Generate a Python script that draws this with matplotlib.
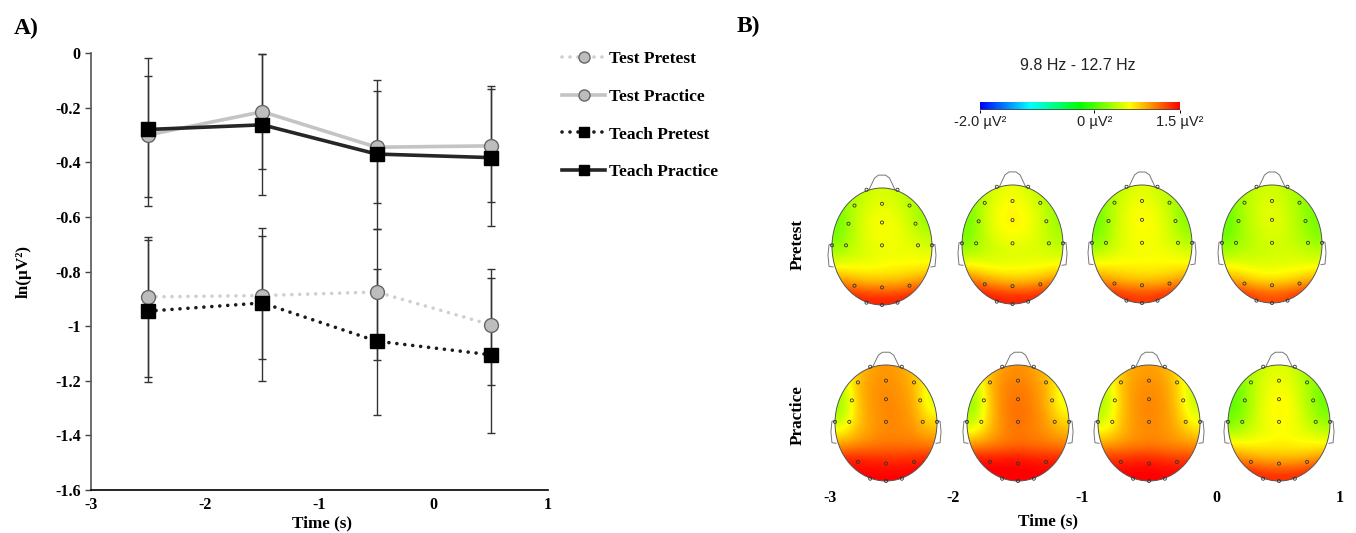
# -*- coding: utf-8 -*-
import numpy as np
import matplotlib
matplotlib.use('Agg')
import matplotlib.pyplot as plt
from matplotlib.colors import LinearSegmentedColormap
from matplotlib.patches import Ellipse
from matplotlib.cm import ScalarMappable
from matplotlib.colors import Normalize

FIG_W = 1356
FIG_H = 533
SERIF = 'Liberation Serif'
SANS = 'Liberation Sans'

# panel A
time_points = [-2.5, -1.5, -0.5, 0.5]
test_pre = [-0.893, -0.888, -0.875, -0.995]
test_pre_top = [-0.675, -0.67, -0.645, -0.79]
test_pre_bottom = [-1.185, -1.12, -1.125, -1.215]
test_prac = [-0.30, -0.215, -0.345, -0.34]
test_prac_top = [-0.083, -0.005, -0.14, -0.13]
test_prac_bottom = [-0.527, -0.425, -0.55, -0.545]
teach_pre = [-0.945, -0.915, -1.055, -1.105]
teach_pre_top = [-0.685, -0.64, -0.79, -0.825]
teach_pre_bottom = [-1.205, -1.20, -1.325, -1.39]
teach_prac = [-0.28, -0.263, -0.37, -0.383]
teach_prac_top = [-0.018, -0.003, -0.10, -0.122]
teach_prac_bottom = [-0.56, -0.52, -0.645, -0.635]
y_ticks = [0, -0.2, -0.4, -0.6, -0.8, -1, -1.2, -1.4, -1.6]
y_tick_labels = ['0', '-0.2', '-0.4', '-0.6', '-0.8', '-1', '-1.2', '-1.4', '-1.6']
x_ticks = [-3, -2, -1, 0, 1]

pre_1 = [[.25, .35, .45, .50, .45, .36, .28],
         [.15, .38, .52, .58, .52, .40, .25],
         [.12, .38, .56, .62, .58, .46, .28],
         [.18, .40, .54, .60, .58, .52, .42],
         [.34, .44, .50, .55, .56, .56, .54],
         [.64, .62, .60, .62, .64, .66, .68],
         [1.05, .95, .88, .88, .88, .95, 1.05],
         [1.55, 1.45, 1.40, 1.40, 1.40, 1.45, 1.55]]
pre_2 = [[.28, .40, .52, .58, .50, .40, .28],
         [.16, .42, .60, .66, .60, .44, .26],
         [.12, .42, .62, .68, .62, .48, .28],
         [.16, .40, .56, .60, .58, .48, .34],
         [.30, .40, .46, .50, .50, .48, .44],
         [.68, .60, .56, .56, .58, .60, .64],
         [1.15, 1.00, .90, .85, .85, .92, 1.05],
         [1.60, 1.50, 1.42, 1.40, 1.40, 1.45, 1.55]]
pre_3 = [[.24, .36, .48, .54, .46, .36, .24],
         [.14, .40, .56, .62, .56, .40, .18],
         [.10, .40, .58, .64, .60, .44, .20],
         [.16, .42, .56, .62, .58, .48, .30],
         [.34, .48, .55, .58, .58, .56, .48],
         [.68, .66, .64, .64, .64, .65, .66],
         [1.00, .92, .85, .82, .82, .88, 1.00],
         [1.55, 1.42, 1.35, 1.32, 1.35, 1.42, 1.55]]
pre_4 = [[.20, .34, .44, .48, .40, .28, .15],
         [.12, .35, .48, .55, .46, .30, .12],
         [.08, .33, .48, .55, .48, .32, .14],
         [.12, .32, .44, .50, .46, .36, .20],
         [.28, .38, .42, .46, .46, .44, .38],
         [.62, .56, .52, .52, .54, .56, .58],
         [.95, .85, .75, .72, .75, .82, .95],
         [1.50, 1.40, 1.28, 1.25, 1.28, 1.40, 1.50]]
prac_1 = [[.50, .82, .95, .98, .95, .82, .55],
          [.35, .85, .98, 1.02, .98, .88, .50],
          [.25, .82, .98, 1.04, 1.00, .90, .48],
          [.32, .80, .96, 1.04, 1.02, .94, .66],
          [.60, .84, .96, 1.02, 1.02, .98, .85],
          [.95, 1.00, 1.05, 1.08, 1.08, 1.08, 1.05],
          [1.40, 1.40, 1.38, 1.35, 1.35, 1.38, 1.40],
          [1.55, 1.50, 1.50, 1.50, 1.50, 1.50, 1.55]]
prac_2 = [[.50, .84, .98, 1.02, .96, .84, .58],
          [.32, .86, 1.04, 1.08, 1.02, .88, .56],
          [.22, .80, 1.05, 1.12, 1.04, .90, .52],
          [.30, .80, 1.05, 1.14, 1.06, .94, .68],
          [.56, .84, 1.02, 1.10, 1.05, .98, .85],
          [.98, 1.02, 1.08, 1.12, 1.10, 1.08, 1.05],
          [1.45, 1.45, 1.45, 1.45, 1.42, 1.40, 1.40],
          [1.55, 1.52, 1.52, 1.52, 1.52, 1.50, 1.50]]
prac_3 = [[.50, .80, .94, .96, .92, .74, .44],
          [.38, .82, .98, 1.02, .98, .78, .40],
          [.30, .80, 1.00, 1.04, 1.00, .80, .40],
          [.40, .80, 1.00, 1.04, 1.00, .84, .52],
          [.60, .82, .98, 1.02, 1.00, .90, .72],
          [.95, .98, 1.02, 1.05, 1.02, 1.00, .98],
          [1.35, 1.35, 1.38, 1.40, 1.35, 1.30, 1.30],
          [1.55, 1.50, 1.52, 1.52, 1.50, 1.50, 1.55]]
prac_4 = [[.18, .32, .48, .54, .46, .30, .15],
          [.08, .32, .54, .62, .54, .32, .10],
          [.04, .32, .56, .66, .58, .34, .10],
          [.10, .36, .58, .66, .60, .40, .18],
          [.30, .44, .55, .62, .58, .48, .38],
          [.68, .64, .64, .66, .64, .64, .64],
          [1.05, .95, .90, .88, .88, .92, 1.02],
          [1.55, 1.45, 1.35, 1.35, 1.35, 1.42, 1.55]]
head_maps = [pre_1, pre_2, pre_3, pre_4, prac_1, prac_2, prac_3, prac_4]
color_ticks = [-2.0, 0, 1.5]
color_tick_labels = ['-2.0 µV²', '0 µV²', '1.5 µV²']
time_tick_labels = ['-3', '-2', '-1', '0', '1']

# left, top, right, bottom of each head outline, pixels
HEAD_BOXES = [(832, 188, 932, 305), (962, 185, 1063, 304),
              (1092, 185, 1192, 303), (1222, 185, 1322, 303),
              (835, 365, 937, 481), (967, 365, 1069, 481),
              (1098, 365, 1200, 481), (1228, 365, 1330, 481)]
TIME_TICK_X = [830, 953, 1082, 1216, 1340]

ELECTRODE_X = [-.55, 0, .55, -.67, 0, .67, -.72, 0, .72, -.55, 0, .55,
               -.31, .31, -.31, 0, .31, -1, 1]
ELECTRODE_Y = [.70, .73, .70, .39, .41, .39, .02, .02, .02, -.67, -.70, -.67,
               .97, .97, -.96, -1, -.96, .02, .02]

jet_like = LinearSegmentedColormap.from_list(
    'topo', ['#0000ff', '#00ffff', '#00ff00', '#ffff00', '#ff0000'])


def px_axes(fig, left, top, right, bottom):
    return fig.add_axes([left / FIG_W, 1 - bottom / FIG_H,
                         (right - left) / FIG_W, (bottom - top) / FIG_H])


def fig_text(fig, x, y, text, **kwargs):
    fig.text(x / FIG_W, 1 - y / FIG_H, text, ha='center', va='center', **kwargs)


def plot_series(ax, values, tops, bottoms, label, color, style, width, marker, size, face, edge):
    values = np.array(values)
    yerr = [values - np.array(bottoms), np.array(tops) - values]
    ax.errorbar(time_points, values, yerr=yerr, fmt='none', ecolor='#333333',
                elinewidth=1, capsize=3, capthick=1, zorder=2)
    line, = ax.plot(time_points, values, color=color, linestyle=style, linewidth=width,
                    marker=marker, markersize=size, markerfacecolor=face,
                    markeredgecolor=edge, markeredgewidth=1, label=label,
                    dash_capstyle='round', zorder=3)
    return line


def plot_left_panel(fig):
    ax = px_axes(fig, 91, 53, 548, 490)
    dots = (0, (0.01, 2.2))
    handles = [
        plot_series(ax, test_pre, test_pre_top, test_pre_bottom, 'Test Pretest',
                    '#cfcfcf', dots, 2.6, 'o', 10, '#bdbdbd', '#666666'),
        plot_series(ax, test_prac, test_prac_top, test_prac_bottom, 'Test Practice',
                    '#c4c4c4', '-', 2.6, 'o', 10, '#bdbdbd', '#666666'),
        plot_series(ax, teach_pre, teach_pre_top, teach_pre_bottom, 'Teach Pretest',
                    '#1a1a1a', dots, 2.6, 's', 9.8, 'black', 'black'),
        plot_series(ax, teach_prac, teach_prac_top, teach_prac_bottom, 'Teach Practice',
                    '#262626', '-', 2.6, 's', 9.8, 'black', 'black'),
    ]
    ax.set_xlim(-3, 1)
    ax.set_ylim(-1.6, 0)
    ax.set_xticks(x_ticks)
    ax.set_xticklabels([str(t) for t in x_ticks], fontfamily=SERIF, fontweight='bold', fontsize=11.5)
    ax.set_yticks(y_ticks)
    ax.set_yticklabels(y_tick_labels, fontfamily=SERIF, fontweight='bold', fontsize=11.5)
    ax.tick_params(axis='x', length=0, pad=5)
    ax.tick_params(axis='y', length=4.5, width=1, color='#444444', pad=3)
    ax.spines['top'].set_visible(False)
    ax.spines['right'].set_visible(False)
    ax.spines['left'].set_color('#555555')
    ax.spines['left'].set_linewidth(1.2)
    ax.spines['bottom'].set_linewidth(1.2)

    fig.legend(handles=handles, loc='upper left', bbox_to_anchor=(562 / FIG_W, 1 - 51 / FIG_H),
               frameon=False, handlelength=2.5, handletextpad=0.18, labelspacing=1.24,
               borderpad=0, borderaxespad=0, numpoints=1, markerscale=0.8,
               prop={'family': SERIF, 'weight': 'bold', 'size': 12.5})
    fig_text(fig, 24, 272, 'ln(µV²)', rotation=90, family=SERIF, fontweight='bold', fontsize=12.3)
    fig_text(fig, 322, 523, 'Time (s)', family=SERIF, fontweight='bold', fontsize=12.3)
    fig_text(fig, 26, 28, 'A)', family=SERIF, fontweight='bold', fontsize=17)


def plot_head(fig, box, values):
    left, top, right, bottom = box
    pad_x = (right - left) * 0.15
    pad_y = (bottom - top) * 0.15
    ax = px_axes(fig, left - pad_x, top - pad_y, right + pad_x, bottom + pad_y)
    ax.set_xlim(-1.3, 1.3)
    ax.set_ylim(-1.3, 1.3)
    ax.axis('off')

    image = ax.imshow(values, cmap=jet_like, vmin=-2, vmax=1.5, extent=(-1, 1, -1, 1),
                      interpolation='bicubic', aspect='auto', zorder=1)
    outline = Ellipse((0, 0), 2, 2, facecolor='none', edgecolor='#555555', linewidth=0.7, zorder=3)
    ax.add_patch(outline)
    image.set_clip_path(outline)

    ax.plot([-.26, -.15, -.07, .07, .15, .26], [.97, 1.17, 1.22, 1.22, 1.17, .97],
            color='#777777', linewidth=0.7, zorder=2)
    for side in (-1, 1):
        ax.plot([side, side * 1.06, side * 1.08, side * 1.06, side * .98],
                [.04, .03, -.15, -.34, -.35], color='#777777', linewidth=0.7, zorder=2)
    ax.scatter(ELECTRODE_X, ELECTRODE_Y, s=5, facecolor='none', edgecolor='#333333',
               linewidth=0.6, zorder=4, clip_on=False)


def plot_right_panel(fig):
    for box, values in zip(HEAD_BOXES, head_maps):
        plot_head(fig, box, values)

    cax = px_axes(fig, 980, 102, 1180, 110)
    colorbar = fig.colorbar(ScalarMappable(Normalize(-2, 1.5), jet_like), cax=cax,
                            orientation='horizontal', ticks=color_ticks)
    colorbar.ax.set_xticklabels(color_tick_labels, fontfamily=SANS, fontsize=10.5, color='#222222')
    colorbar.ax.tick_params(length=2, width=0.7, pad=1.5)
    colorbar.outline.set_visible(False)
    cax.axhline(0, color='#444444', linewidth=1.2)

    fig_text(fig, 1078, 66, '9.8 Hz - 12.7 Hz', family=SANS, fontsize=11.5, color='#222222')
    fig_text(fig, 748, 26, 'B)', family=SERIF, fontweight='bold', fontsize=17)
    fig_text(fig, 798, 245, 'Pretest', rotation=90, family=SERIF, fontweight='bold', fontsize=12.3)
    fig_text(fig, 798, 415, 'Practice', rotation=90, family=SERIF, fontweight='bold', fontsize=12.3)
    for xPos, label in zip(TIME_TICK_X, time_tick_labels):
        fig_text(fig, xPos, 498, label, family=SERIF, fontweight='bold', fontsize=11.5)
    fig_text(fig, 1048, 521, 'Time (s)', family=SERIF, fontweight='bold', fontsize=12.3)


def main():
    fig = plt.figure(figsize=(FIG_W / 100, FIG_H / 100), dpi=100)
    plot_left_panel(fig)
    plot_right_panel(fig)
    fig.savefig('out.png', dpi=100)


main()
